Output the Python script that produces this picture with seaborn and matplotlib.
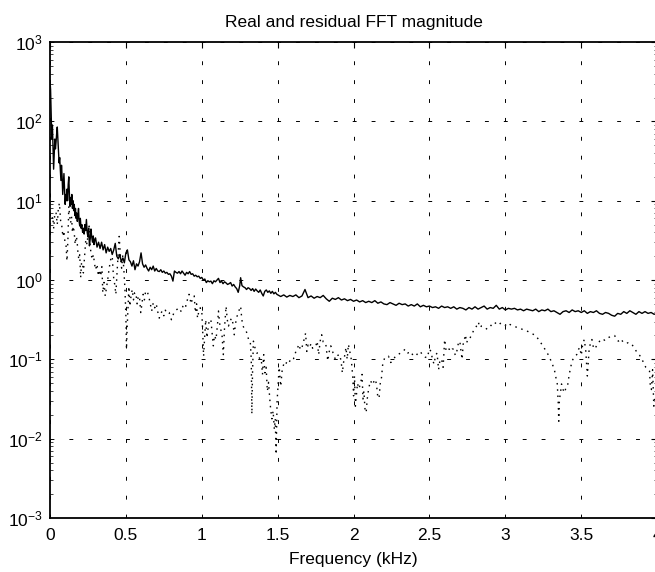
import numpy as np
import pandas as pd
import matplotlib
matplotlib.use("Agg")
import matplotlib.pyplot as plt
from matplotlib.ticker import FixedLocator, FuncFormatter, LogLocator, NullFormatter
import seaborn as sns

# ---------------- data ----------------
title = "Real and residual FFT magnitude"
x_label = "Frequency (kHz)"
x_ticks = [0, 0.5, 1, 1.5, 2, 2.5, 3, 3.5, 4]

# real FFT magnitude: (frequency kHz, magnitude)
real_fft = [
    (0.000, 330), (0.004, 250), (0.008, 120), (0.012, 60), (0.016, 90), (0.020, 45),
    (0.024, 25), (0.028, 40), (0.032, 60), (0.036, 45), (0.040, 55), (0.044, 70),
    (0.048, 85), (0.052, 60), (0.056, 40), (0.060, 30), (0.064, 35), (0.068, 25),
    (0.072, 18), (0.076, 28), (0.080, 20), (0.084, 12), (0.088, 16), (0.092, 22),
    (0.096, 14), (0.100, 9), (0.104, 12), (0.108, 10), (0.112, 14), (0.116, 10),
    (0.120, 16), (0.124, 20), (0.128, 12), (0.132, 8.5), (0.136, 11), (0.140, 9),
    (0.144, 12), (0.148, 8), (0.152, 10), (0.156, 7.5), (0.160, 9), (0.164, 6.5),
    (0.168, 8), (0.172, 6), (0.176, 7), (0.180, 5.5), (0.184, 6.5), (0.188, 8),
    (0.192, 5.5), (0.196, 4.8), (0.200, 6), (0.205, 4.5), (0.210, 5), (0.215, 4),
    (0.220, 4.5), (0.225, 3.8), (0.230, 5), (0.235, 4.2), (0.240, 5.8), (0.245, 4),
    (0.250, 3.5), (0.255, 4.5), (0.260, 2.7), (0.265, 3.3), (0.270, 4.4), (0.275, 3.5),
    (0.280, 3.0), (0.285, 3.6), (0.290, 2.8), (0.295, 3.2), (0.300, 3.4), (0.310, 2.6),
    (0.320, 3.0), (0.330, 2.5), (0.340, 3.0), (0.350, 2.4), (0.360, 2.8), (0.370, 2.2),
    (0.380, 2.6), (0.390, 2.3), (0.400, 2.5), (0.410, 2.1), (0.420, 2.4), (0.430, 2.9),
    (0.440, 2.0), (0.450, 1.85), (0.460, 2.1), (0.470, 1.7), (0.480, 1.9), (0.490, 1.65),
    (0.500, 2.2), (0.510, 2.4), (0.520, 1.8), (0.530, 1.7), (0.540, 1.5), (0.550, 1.75),
    (0.560, 1.35), (0.570, 1.6), (0.580, 1.5), (0.590, 1.7), (0.600, 2.2), (0.610, 1.6),
    (0.620, 1.45), (0.630, 1.55), (0.640, 1.4), (0.650, 1.3), (0.660, 1.45), (0.670, 1.35),
    (0.680, 1.5), (0.690, 1.3), (0.700, 1.4), (0.710, 1.3), (0.720, 1.28), (0.730, 1.35),
    (0.740, 1.25), (0.750, 1.3), (0.760, 1.22), (0.770, 1.25), (0.780, 1.18), (0.790, 1.2),
    (0.800, 1.12), (0.810, 0.97), (0.820, 1.3), (0.830, 1.25), (0.840, 1.22), (0.850, 1.28),
    (0.860, 1.2), (0.870, 1.3), (0.880, 1.22), (0.890, 1.15), (0.900, 1.25), (0.910, 1.2),
    (0.920, 1.28), (0.930, 1.18), (0.940, 1.2), (0.950, 1.12), (0.960, 1.15), (0.970, 1.1),
    (0.980, 1.12), (0.990, 1.05), (1.000, 1.08), (1.010, 1.0), (1.020, 1.03), (1.030, 0.93),
    (1.040, 0.98), (1.050, 0.95), (1.060, 0.97), (1.070, 0.9), (1.080, 0.98), (1.090, 0.95),
    (1.100, 1.0), (1.110, 1.05), (1.120, 0.93), (1.130, 0.97), (1.140, 0.9), (1.150, 0.95),
    (1.160, 0.92), (1.170, 0.88), (1.180, 0.9), (1.190, 0.93), (1.200, 0.84), (1.210, 0.88),
    (1.220, 0.82), (1.230, 0.78), (1.240, 0.7), (1.250, 0.85), (1.256, 1.07), (1.265, 0.85),
    (1.275, 0.82), (1.285, 0.8), (1.295, 0.76), (1.305, 0.8), (1.315, 0.78), (1.325, 0.74),
    (1.335, 0.78), (1.345, 0.72), (1.355, 0.77), (1.365, 0.73), (1.375, 0.7), (1.385, 0.75),
    (1.395, 0.68), (1.405, 0.63), (1.415, 0.72), (1.425, 0.75), (1.435, 0.7), (1.445, 0.73),
    (1.455, 0.68), (1.465, 0.72), (1.475, 0.67), (1.485, 0.7), (1.495, 0.66),
    (1.52, 0.62), (1.54, 0.65), (1.56, 0.61), (1.58, 0.64), (1.60, 0.62), (1.62, 0.65),
    (1.64, 0.6), (1.66, 0.63), (1.68, 0.76), (1.70, 0.6), (1.72, 0.63), (1.74, 0.59),
    (1.76, 0.62), (1.78, 0.6), (1.80, 0.64), (1.82, 0.58), (1.84, 0.54), (1.86, 0.59),
    (1.88, 0.57), (1.90, 0.6), (1.92, 0.56), (1.94, 0.58), (1.96, 0.55), (1.98, 0.57),
    (2.00, 0.54), (2.02, 0.56), (2.04, 0.53), (2.06, 0.55), (2.08, 0.52), (2.10, 0.54),
    (2.12, 0.52), (2.14, 0.55), (2.16, 0.51), (2.18, 0.53), (2.20, 0.5), (2.22, 0.49),
    (2.24, 0.52), (2.26, 0.5), (2.28, 0.48), (2.30, 0.51), (2.32, 0.49), (2.34, 0.5),
    (2.36, 0.47), (2.38, 0.49), (2.40, 0.47), (2.42, 0.5), (2.44, 0.46), (2.46, 0.48),
    (2.48, 0.46), (2.50, 0.47), (2.52, 0.45), (2.54, 0.46), (2.56, 0.44), (2.58, 0.47),
    (2.60, 0.45), (2.62, 0.46), (2.64, 0.44), (2.66, 0.46), (2.68, 0.43), (2.70, 0.45),
    (2.72, 0.44), (2.74, 0.42), (2.76, 0.45), (2.78, 0.43), (2.80, 0.46), (2.82, 0.43),
    (2.84, 0.45), (2.86, 0.47), (2.88, 0.43), (2.90, 0.45), (2.92, 0.44), (2.94, 0.48),
    (2.96, 0.43), (2.98, 0.45), (3.00, 0.42), (3.02, 0.44), (3.04, 0.43), (3.06, 0.44),
    (3.08, 0.42), (3.10, 0.43), (3.12, 0.41), (3.14, 0.43), (3.16, 0.42), (3.18, 0.41),
    (3.20, 0.43), (3.22, 0.4), (3.24, 0.42), (3.26, 0.41), (3.28, 0.43), (3.30, 0.4),
    (3.32, 0.41), (3.34, 0.39), (3.36, 0.37), (3.38, 0.4), (3.40, 0.41), (3.42, 0.39),
    (3.44, 0.42), (3.46, 0.4), (3.48, 0.41), (3.50, 0.39), (3.52, 0.41), (3.54, 0.38),
    (3.56, 0.4), (3.58, 0.39), (3.60, 0.41), (3.62, 0.38), (3.64, 0.37), (3.66, 0.39),
    (3.68, 0.38), (3.70, 0.36), (3.72, 0.35), (3.74, 0.38), (3.76, 0.37), (3.78, 0.4),
    (3.80, 0.38), (3.82, 0.41), (3.84, 0.39), (3.86, 0.37), (3.88, 0.4), (3.90, 0.38),
    (3.92, 0.4), (3.94, 0.38), (3.96, 0.39), (3.98, 0.37), (4.00, 0.38),
]

# residual FFT magnitude: (frequency kHz, log10 of magnitude read in decades)
residual_fft = [
    (0.000, 0.70), (0.010, 0.75), (0.018, 0.80), (0.025, 0.65), (0.032, 0.85), (0.040, 0.85),
    (0.048, 0.70), (0.055, 0.90), (0.062, 0.97), (0.070, 0.75), (0.078, 0.68), (0.085, 0.55),
    (0.092, 0.62), (0.100, 0.45), (0.106, 0.43), (0.112, 0.24), (0.118, 0.50), (0.124, 0.93),
    (0.130, 0.80), (0.136, 0.72), (0.142, 0.80), (0.148, 0.60), (0.154, 0.68), (0.160, 0.59),
    (0.166, 0.45), (0.172, 0.55), (0.178, 0.51), (0.184, 0.35), (0.190, 0.26), (0.196, 0.32),
    (0.202, 0.03), (0.208, 0.22), (0.214, 0.22), (0.220, 0.09), (0.228, 0.30), (0.236, 0.51),
    (0.244, 0.45), (0.252, 0.60), (0.258, 0.68), (0.264, 0.45), (0.270, 0.34), (0.278, 0.26),
    (0.286, 0.32), (0.294, 0.20), (0.300, 0.13), (0.310, 0.20), (0.318, 0.05), (0.326, 0.13),
    (0.334, 0.05), (0.342, 0.17), (0.348, -0.16), (0.356, -0.03), (0.364, -0.20), (0.372, -0.10),
    (0.380, 0.00), (0.390, 0.15), (0.400, 0.26), (0.410, 0.30), (0.418, 0.05), (0.426, -0.05),
    (0.434, -0.18), (0.442, 0.10), (0.450, 0.35), (0.456, 0.55), (0.464, 0.30), (0.472, 0.15),
    (0.480, 0.32), (0.488, 0.09), (0.494, -0.12), (0.500, -0.45), (0.504, -0.87), (0.508, -0.62),
    (0.514, -0.35), (0.520, -0.08), (0.526, -0.33), (0.534, -0.20), (0.542, -0.12), (0.550, -0.25),
    (0.558, -0.16), (0.566, -0.16), (0.574, -0.30), (0.582, -0.20), (0.590, -0.22), (0.598, -0.41),
    (0.606, -0.30), (0.614, -0.18), (0.622, -0.25), (0.630, -0.14), (0.640, -0.14), (0.650, -0.20),
    (0.660, -0.29), (0.670, -0.39), (0.680, -0.29), (0.690, -0.35), (0.700, -0.30), (0.710, -0.40),
    (0.720, -0.48), (0.730, -0.42), (0.740, -0.39), (0.750, -0.45), (0.760, -0.38), (0.770, -0.42),
    (0.785, -0.41), (0.800, -0.50), (0.815, -0.42), (0.830, -0.38), (0.850, -0.35), (0.865, -0.40),
    (0.880, -0.30), (0.895, -0.33), (0.905, -0.25), (0.916, -0.18), (0.930, -0.30), (0.940, -0.22),
    (0.950, -0.20), (0.958, -0.41), (0.966, -0.30), (0.972, -0.48), (0.980, -0.40), (0.990, -0.35),
    (1.000, -0.39), (1.006, -0.64), (1.012, -0.96), (1.018, -0.75), (1.026, -0.50), (1.034, -0.73),
    (1.042, -0.60), (1.050, -0.50), (1.060, -0.50), (1.068, -0.66), (1.076, -0.83), (1.084, -0.70),
    (1.094, -0.75), (1.104, -0.55), (1.110, -0.39), (1.118, -0.55), (1.125, -0.62), (1.134, -0.71),
    (1.142, -0.94), (1.150, -0.60), (1.160, -0.33), (1.168, -0.50), (1.176, -0.58), (1.186, -0.52),
    (1.196, -0.48), (1.206, -0.55), (1.214, -0.69), (1.222, -0.55), (1.232, -0.46), (1.246, -0.38),
    (1.256, -0.33), (1.264, -0.50), (1.272, -0.58), (1.282, -0.62), (1.292, -0.64), (1.302, -0.70),
    (1.312, -0.78), (1.320, -0.79), (1.326, -1.00), (1.330, -1.69), (1.334, -1.20), (1.340, -0.77),
    (1.350, -0.85), (1.362, -0.92), (1.372, -0.92), (1.382, -1.00), (1.392, -1.00), (1.400, -1.19),
    (1.408, -0.94), (1.416, -1.17), (1.424, -1.10), (1.432, -1.40), (1.440, -1.29), (1.448, -1.50),
    (1.454, -1.63), (1.462, -1.75), (1.470, -1.65), (1.478, -1.88), (1.484, -1.75), (1.490, -2.20),
    (1.496, -1.54), (1.502, -1.34), (1.510, -1.10), (1.520, -1.34), (1.530, -1.13), (1.540, -1.06),
    (1.550, -1.08), (1.562, -1.02), (1.575, -1.04), (1.590, -0.98), (1.605, -0.99), (1.620, -0.90),
    (1.632, -0.85), (1.640, -0.81), (1.650, -0.88), (1.660, -0.85), (1.670, -0.78), (1.684, -0.67),
    (1.692, -0.90), (1.700, -0.82), (1.710, -0.85), (1.720, -0.80), (1.730, -0.86), (1.740, -0.84),
    (1.750, -0.84), (1.760, -0.77), (1.770, -0.94), (1.780, -0.77), (1.790, -0.69), (1.800, -0.78),
    (1.816, -0.79), (1.830, -1.02), (1.840, -0.90), (1.850, -0.83), (1.865, -0.92), (1.880, -1.00),
    (1.895, -0.95), (1.910, -0.94), (1.920, -1.06), (1.926, -1.17), (1.934, -1.04), (1.944, -0.92),
    (1.950, -0.85), (1.958, -1.00), (1.966, -0.81), (1.975, -0.90), (1.985, -1.00), (1.995, -1.23),
    (2.000, -1.46), (2.006, -1.21), (2.012, -1.59), (2.018, -1.46), (2.026, -1.30), (2.034, -1.37),
    (2.046, -1.31), (2.056, -1.19), (2.062, -1.50), (2.068, -1.40), (2.076, -1.65), (2.083, -1.67),
    (2.090, -1.50), (2.100, -1.36), (2.112, -1.27), (2.125, -1.32), (2.140, -1.25), (2.150, -1.30),
    (2.160, -1.48), (2.168, -1.49), (2.176, -1.30), (2.184, -1.23), (2.192, -1.06), (2.205, -0.98),
    (2.220, -0.97), (2.230, -0.96), (2.245, -1.04), (2.262, -1.00), (2.280, -0.95), (2.292, -0.94),
    (2.310, -0.92), (2.325, -0.90), (2.340, -0.87), (2.358, -0.92), (2.375, -0.90), (2.392, -0.95),
    (2.408, -0.96), (2.425, -0.92), (2.440, -0.90), (2.455, -0.95), (2.470, -0.97), (2.485, -0.98),
    (2.500, -0.87), (2.510, -0.90), (2.520, -1.00), (2.530, -1.06), (2.540, -0.95), (2.550, -0.92),
    (2.560, -1.13), (2.570, -1.00), (2.580, -1.00), (2.590, -1.10), (2.600, -0.75), (2.610, -0.90),
    (2.620, -0.88), (2.630, -0.87), (2.640, -0.90), (2.650, -0.87), (2.660, -0.87), (2.670, -0.95),
    (2.680, -0.90), (2.690, -0.80), (2.700, -0.77), (2.708, -0.90), (2.715, -1.00), (2.722, -0.81),
    (2.730, -0.75), (2.737, -0.69), (2.745, -0.79), (2.755, -0.74), (2.765, -0.74), (2.775, -0.70),
    (2.785, -0.66), (2.795, -0.62), (2.805, -0.60), (2.815, -0.56), (2.822, -0.53), (2.832, -0.60),
    (2.842, -0.58), (2.852, -0.58), (2.865, -0.60), (2.880, -0.62), (2.895, -0.60), (2.910, -0.56),
    (2.925, -0.53), (2.940, -0.55), (2.955, -0.57), (2.970, -0.54), (2.985, -0.55), (3.000, -0.57),
    (3.015, -0.54), (3.030, -0.56), (3.055, -0.58), (3.080, -0.60), (3.100, -0.61), (3.120, -0.63),
    (3.140, -0.64), (3.170, -0.67), (3.200, -0.70), (3.230, -0.78), (3.260, -0.87), (3.285, -0.95),
    (3.310, -1.06), (3.325, -1.15), (3.335, -1.25), (3.342, -1.31), (3.348, -1.54), (3.352, -1.78),
    (3.356, -1.50), (3.362, -1.44), (3.370, -1.31), (3.380, -1.38), (3.390, -1.42), (3.400, -1.35),
    (3.410, -1.33), (3.420, -1.20), (3.430, -1.10), (3.440, -1.02), (3.450, -0.98), (3.460, -0.96),
    (3.470, -0.94), (3.480, -0.88), (3.490, -0.85), (3.500, -0.95), (3.510, -0.80), (3.520, -0.75),
    (3.530, -0.90), (3.540, -1.21), (3.546, -1.04), (3.552, -0.87), (3.560, -0.80), (3.570, -0.75),
    (3.580, -0.85), (3.590, -0.87), (3.600, -0.83), (3.610, -0.80), (3.625, -0.76), (3.640, -0.74),
    (3.655, -0.76), (3.670, -0.73), (3.685, -0.72), (3.700, -0.71), (3.720, -0.70), (3.735, -0.76),
    (3.745, -0.77), (3.760, -0.74), (3.775, -0.78), (3.790, -0.80), (3.810, -0.79), (3.830, -0.80),
    (3.850, -0.86), (3.870, -0.92), (3.885, -0.95), (3.900, -1.00), (3.915, -1.06), (3.925, -1.10),
    (3.940, -1.13), (3.950, -1.15), (3.955, -1.34), (3.962, -1.38), (3.970, -1.13), (3.978, -1.59),
    (3.990, -1.45), (4.000, -1.30),
]

# ---------------- styling ----------------
sns.set_theme(style="white")
plt.rcParams["font.family"] = ["Liberation Sans", "DejaVu Sans"]
plt.rcParams["mathtext.fontset"] = "custom"
plt.rcParams["mathtext.rm"] = "Liberation Sans"
plt.rcParams["mathtext.it"] = "Liberation Sans:italic"
plt.rcParams["lines.scale_dashes"] = False

FS = 12.5

real_df = pd.DataFrame(real_fft, columns=["freq", "mag"])
res_df = pd.DataFrame(residual_fft, columns=["freq", "exp"])
res_df["mag"] = 10.0 ** res_df["exp"]

fig = plt.figure(figsize=(6.55, 5.72), dpi=100)
ax = fig.add_axes([0.0763, 0.0944, 0.927, 0.832])
ax.set_facecolor("white")

sns.lineplot(data=real_df, x="freq", y="mag", ax=ax, color="black", linewidth=1.0,
             estimator=None, sort=False)
sns.lineplot(data=res_df, x="freq", y="mag", ax=ax, color="black", linewidth=1.0,
             estimator=None, sort=False, linestyle=(0, (1.1, 3.4)))

ax.set_yscale("log")
ax.set_xlim(0, 4)
ax.set_ylim(1e-3, 1e3)

ax.xaxis.set_major_locator(FixedLocator(x_ticks))
ax.xaxis.set_major_formatter(FuncFormatter(lambda v, p: f"{v:g}"))
ax.yaxis.set_major_locator(LogLocator(base=10, numticks=10))
ax.yaxis.set_minor_locator(LogLocator(base=10, subs=np.arange(2, 10), numticks=20))
ax.yaxis.set_minor_formatter(NullFormatter())

ax.grid(True, which="major", color="black", linewidth=0.7, linestyle=(0, (2.8, 10.8)))
ax.tick_params(which="major", direction="in", length=4, width=0.8, top=True, right=True,
               labelsize=FS, colors="black")
ax.tick_params(axis="x", which="major", pad=7.5)
ax.tick_params(axis="y", which="major", pad=5)
ax.tick_params(which="minor", direction="in", length=2.5, width=0.6, left=True, right=True)
ax.tick_params(axis="x", which="minor", bottom=False, top=False)

for s in ax.spines.values():
    s.set_color("black")
    s.set_linewidth(1.3)

ax.set_title(title, fontsize=FS, color="black", pad=11)
ax.set_xlabel(x_label, fontsize=FS, color="black", labelpad=6.5)
ax.set_ylabel(None)
ax.yaxis.label.set_visible(False)

fig.savefig("out.png", dpi=100)
